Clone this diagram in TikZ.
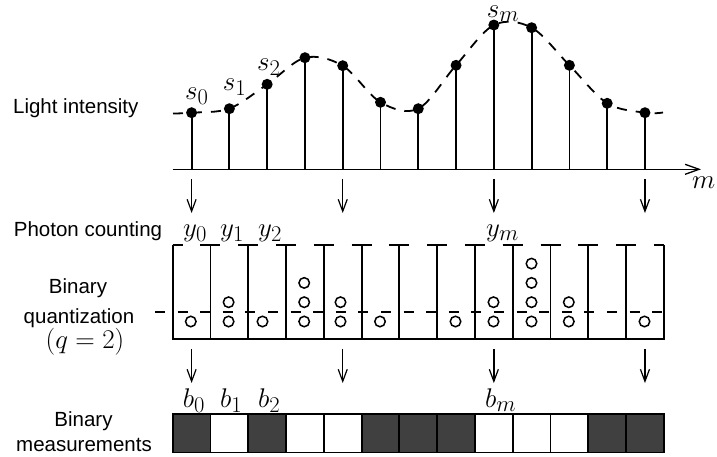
\documentclass[tikz,border=0pt]{standalone}
\usepackage{fontspec}
\newfontfamily\lab{Liberation Sans}
\usetikzlibrary{arrows.meta}
\definecolor{binfill}{RGB}{64,64,64}
\newcommand{\mth}[1]{\scalebox{1.085}{$#1$}}
\begin{document}
\begin{tikzpicture}[x=1pt,y=-1pt,
  lbl/.style={font=\lab\fontsize{20.5}{24}\selectfont, inner sep=0pt, anchor=base},
  mlbl/.style={font=\fontsize{24.88}{30}\selectfont, inner sep=0pt, anchor=base west},
  dot/.style={circle, fill=black, inner sep=0pt, minimum size=11pt},
  stem/.style={line width=1.8pt},
  curve/.style={line width=1.8pt, dash pattern=on 10pt off 9pt},
  axis/.style={line width=1.6pt, -{Straight Barb[length=14pt,width=10pt,line width=1.3pt]}},
  down/.style={line width=1.5pt, -{Straight Barb[length=12pt,width=9pt,line width=1.2pt]}},
  binline/.style={line width=1.8pt},
  photon/.style={circle, draw=black, line width=1.5pt, fill=white, inner sep=0pt, minimum size=10.5pt},
  cell/.style={rectangle, draw=black, line width=1.8pt, minimum width=37.78pt, minimum height=38.5pt, inner sep=0pt, outer sep=0pt}
]
\useasboundingbox (0,0) rectangle (717,456);

% dashed intensity curve
\draw[curve] plot[smooth, tension=0.55] coordinates {(173,113.5) (191.6,112.7) (229.4,108.6) (267.2,84.3) (305,57.7) (342.7,65.7) (380.5,102.3) (418.3,108.7) (456,65.3) (493.9,25) (531.7,27.7) (569.4,65.3) (607.2,103.3) (645,112.7) (663,112.5)};

% axis
\coordinate (axL) at (172.7,169.3);
\coordinate (axR) at (701,169.3);
\draw[axis] (axL) -- (axR);
\node[mlbl] (mlab) at (692,188) {\mth{m}};

% stems and samples
\foreach \h [count=\i from 0] in {112.7,108.7,84.3,57.7,65.7,102.3,108.7,65.3,25,27.7,65.3,103.3,112.7} {
  \pgfmathsetmacro{\xx}{191.6+37.78*\i}
  \coordinate (base\i) at (\xx,169.3);
  \node[dot] (dot\i) at (\xx,\h) {};
  \draw[stem] (base\i) -- (dot\i.center);
}

% sample labels
\node[mlbl] (s0) at (185,99) {\mth{s_0}};
\node[mlbl] (s1) at (222.7,90) {\mth{s_1}};
\node[mlbl] (s2) at (257,70) {\mth{s_2}};
\node[mlbl] (sm) at (486.7,17) {\mth{s_m}};

% arrows
\foreach \i in {0,4,8,12} {
  \pgfmathsetmacro{\xx}{191.6+37.78*\i}
  \coordinate (ua\i) at (\xx,179);
  \coordinate (ub\i) at (\xx,213);
  \draw[down] (ua\i) -- (ub\i);
  \coordinate (la\i) at (\xx,349);
  \coordinate (lb\i) at (\xx,383);
  \draw[down] (la\i) -- (lb\i);
}

% photon counting labels
\node[mlbl] (y0) at (183,236) {\mth{y_0}};
\node[mlbl] (y1) at (220,236) {\mth{y_1}};
\node[mlbl] (y2) at (258,236) {\mth{y_2}};
\node[mlbl] (ym) at (486,236) {\mth{y_m}};

% bins
\coordinate (qTL) at (172.7,245);
\coordinate (qBL) at (172.7,339);
\coordinate (qBR) at (663.8,339);
\coordinate (qTR) at (663.8,245);
\draw[binline] (qTL) -- (qBL) -- (qBR) -- (qTR);
\foreach \k in {1,...,12} {
  \pgfmathsetmacro{\xx}{172.7+37.78*\k}
  \coordinate (vt\k) at (\xx,245);
  \coordinate (vb\k) at (\xx,339);
  \draw[binline] (vt\k) -- (vb\k);
}
\draw[binline, dash pattern=on 20pt off 17.78pt, dash phase=10pt] (qTL) -- (qTR);
\coordinate (thL) at (155,312);
\coordinate (thR) at (663.8,312);
\draw[binline, dash pattern=on 10pt off 12.6pt] (thL) -- (thR);

% photons
\foreach \n/\xx [count=\i from 0] in {1/190.8,2/228.6,1/262.5,3/304.2,2/340.5,1/380,0/418,1/455.5,2/493.5,4/531.5,2/568.8,0/607,1/644.5} {
  \ifnum\n>0
    \foreach \j in {1,...,\n} {
      \node[photon] (p\i-\j) at (\xx,{321.5-19.3*(\j-1)}) {};
    }
  \fi
}

% binary measurements
\foreach \f [count=\k from 0] in {1,0,1,0,0,1,1,1,0,0,0,1,1} {
  \pgfmathsetmacro{\xx}{191.6+37.78*\k}
  \ifnum\f=1
    \node[cell, fill=binfill] (c\k) at (\xx,433.25) {};
  \else
    \node[cell, fill=white] (c\k) at (\xx,433.25) {};
  \fi
}
\node[mlbl] (b0) at (182.7,407) {\mth{b_0}};
\node[mlbl] (b1) at (220,407) {\mth{b_1}};
\node[mlbl] (b2) at (258,407) {\mth{b_2}};
\node[mlbl] (bm) at (485,407) {\mth{b_m}};

% left labels
\node[lbl] (tLight) at (75.8,113.3) {Light intensity};
\node[lbl] (tPhoton) at (88,236) {Photon counting};
\node[lbl] (tBin1) at (78,293) {Binary};
\node[lbl] (tQuant) at (79,323.3) {quantization};
\node[lbl, font=\fontsize{24.88}{30}\selectfont] (tq) at (85,348.3) {\mth{(q=2)}};
\node[lbl] (tBin2) at (83.5,426.7) {Binary};
\node[lbl] (tMeas) at (84,451.7) {measurements};
\end{tikzpicture}
\end{document}
